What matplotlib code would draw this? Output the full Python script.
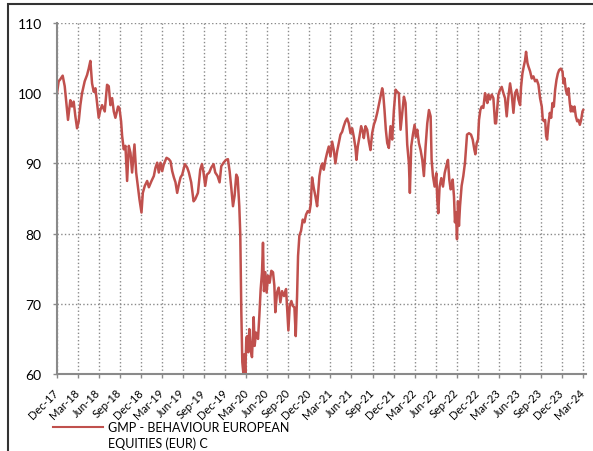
import matplotlib
matplotlib.use("Agg")
import matplotlib.pyplot as plt
from matplotlib.lines import Line2D
from matplotlib.patches import Rectangle

plt.rcParams['font.family'] = ['Lato', 'DejaVu Sans']

# x = months since end of Dec-2017
months = [
    0.00, 0.24, 0.48, 0.81, 1.10, 1.43, 1.57, 1.90, 2.14, 2.38, 2.62, 2.86, 3.10, 3.33, 3.57, 3.95,
    4.29, 4.52, 4.76, 5.00, 5.24, 5.48, 5.71, 5.95, 6.19, 6.43, 6.81, 7.14, 7.38, 7.62, 7.86, 8.10,
    8.33, 8.71, 8.90, 9.14, 9.29, 9.52, 9.76, 10.00, 10.24, 10.48, 10.71, 11.05, 11.29, 11.52, 11.76,
    12.05, 12.24, 12.52, 12.86, 13.10, 13.48, 13.81, 14.05, 14.29, 14.52, 14.76, 15.00, 15.24, 15.62,
    15.95, 16.19, 16.43, 16.67, 16.90, 17.14, 17.38, 17.62, 17.86, 18.24, 18.57, 18.81,
    19.14, 19.48, 19.71, 20.10, 20.43, 20.67, 20.90, 21.14, 21.38, 21.71, 22.00, 22.33, 22.57, 22.90,
    23.19, 23.43, 23.76, 24.10, 24.38, 24.62, 24.86, 25.10, 25.33, 25.57, 25.76, 26.00, 26.14, 26.29,
    26.43, 26.57, 26.71, 26.86, 27.00, 27.14, 27.29, 27.43, 27.62, 27.81, 28.05, 28.19, 28.38, 28.67,
    28.86, 29.05, 29.24, 29.38, 29.52, 29.71, 29.90, 30.10, 30.33, 30.57, 30.81, 31.00, 31.14, 31.38,
    31.62, 31.86, 32.10, 32.38, 32.67, 32.86, 33.00, 33.19, 33.43, 33.62, 33.86, 34.05, 34.24, 34.38,
    34.57, 34.81, 35.05, 35.29, 35.52, 35.76, 36.00, 36.19, 36.38, 36.62,
    36.86, 37.10, 37.24, 37.43, 37.67, 37.86, 38.05, 38.29, 38.52, 38.76, 39.00, 39.24, 39.48, 39.71,
    39.95, 40.19, 40.43, 40.67, 40.90, 41.14, 41.38, 41.62, 41.86, 42.10, 42.33, 42.57, 42.71, 42.90,
    43.14, 43.38, 43.62, 43.76, 44.00, 44.24, 44.48, 44.71, 44.95, 45.19, 45.43, 45.67, 45.90, 46.14,
    46.38, 46.52, 46.71, 46.90, 47.10, 47.33, 47.57, 47.81, 48.05, 48.29, 48.52, 48.76, 49.00, 49.24,
    49.48, 49.71, 49.95, 50.19, 50.33, 50.52, 50.76, 51.00, 51.19, 51.38, 51.62, 51.86, 52.10, 52.33,
    52.57, 52.81, 53.05, 53.29, 53.43, 53.62, 53.86, 54.10, 54.24, 54.38, 54.57, 54.81, 55.05, 55.29,
    55.52, 55.76, 55.95, 56.14,
    56.29, 56.43, 56.62, 56.76, 56.90, 57.05, 57.19, 57.33, 57.48, 57.71, 57.95, 58.19, 58.33, 58.48,
    58.76, 59.05, 59.29, 59.52, 59.67, 59.86, 60.05, 60.19, 60.38, 60.57, 60.81, 61.05, 61.19, 61.38,
    61.52, 61.76, 62.00, 62.24, 62.48, 62.62, 62.81, 62.95, 63.19, 63.43, 63.67, 63.90, 64.14, 64.38,
    64.62, 64.86, 65.10, 65.33, 65.57, 65.81, 66.05, 66.19, 66.38, 66.57, 66.76, 66.90, 67.10, 67.24,
    67.48, 67.71, 67.95, 68.19, 68.43, 68.67, 68.90, 69.14, 69.29, 69.48, 69.62, 69.76, 69.90, 70.10,
    70.29, 70.48, 70.67, 70.86, 71.05, 71.24, 71.43, 71.62, 71.86, 72.10, 72.24, 72.38, 72.57, 72.76,
    72.95, 73.14, 73.29, 73.43, 73.62, 73.81, 74.00, 74.19, 74.38, 74.57, 74.76, 74.95, 75.05,
]

values = [
    100.0, 101.7, 102.0, 102.5, 101.0, 97.6, 96.2, 99.0, 98.1, 98.8, 96.7, 95.0, 96.0, 98.3, 100.0, 101.7,
    102.6, 103.5, 104.6, 101.4, 100.2, 100.7, 98.6, 96.5, 97.6, 98.3, 97.4, 101.2, 101.0, 98.3, 99.3, 97.4,
    96.5, 98.1, 97.9, 96.0, 93.9, 92.0, 92.5, 87.5, 92.5, 91.5, 88.7, 92.7, 88.7, 86.8, 84.9,
    83.0, 85.8, 86.8, 87.5, 86.6, 87.5, 88.2, 89.4, 90.1, 88.7, 90.1, 88.9, 89.9, 90.8,
    90.6, 90.3, 88.9, 88.0, 87.3, 85.8, 87.0, 88.0, 88.4, 89.9, 89.4, 88.7,
    87.3, 84.6, 84.9, 85.8, 89.1, 89.9, 88.7, 86.8, 88.4, 88.7, 89.4, 89.9, 88.7, 88.2,
    87.3, 89.6, 90.1, 90.5, 90.6, 88.9, 86.5, 83.9, 85.4, 88.4, 88.0, 83.9, 79.9, 68.8,
    61.7, 60.2, 62.8, 59.8, 65.2, 65.4, 63.1, 66.4, 63.5, 62.4, 68.1, 64.0, 65.9, 65.0,
    68.3, 72.1, 74.5, 78.7, 71.8, 74.5, 71.6, 74.0, 73.0, 74.7, 74.5, 72.6, 68.8, 71.6,
    72.3, 70.2, 71.8, 71.1, 72.1, 68.8, 66.2, 69.7, 70.4, 69.7, 69.5, 65.4, 71.1, 76.8,
    79.7, 80.4, 82.0, 81.6, 82.7, 83.2, 83.0, 84.2, 88.0, 86.5,
    85.3, 83.9, 85.8, 88.2, 89.6, 90.0, 89.1, 90.5, 91.5, 92.4, 91.0, 93.1, 91.9, 90.0,
    91.7, 92.9, 94.1, 94.5, 95.3, 96.0, 96.4, 95.7, 94.3, 95.0, 93.8, 92.2, 90.5, 92.4,
    93.8, 95.3, 94.5, 93.6, 95.3, 94.8, 93.1, 91.9, 94.3, 95.5, 96.2, 97.2, 98.3, 99.5,
    100.7, 100.0, 97.6, 94.8, 92.9, 92.2, 95.3, 93.4, 97.6, 100.5, 100.2, 100.0, 94.8, 97.2,
    99.5, 98.6, 92.7, 90.0, 85.8, 92.4, 94.1, 95.5, 93.8, 94.8, 92.9, 91.9, 90.5, 88.2,
    92.4, 95.7, 97.6, 96.7, 90.5, 88.2, 86.7, 88.6, 84.8, 82.9, 86.7, 87.9, 86.7, 88.6,
    89.6, 90.5, 87.7, 86.3,
    86.5, 87.7, 85.3, 81.6, 83.0, 79.2, 84.6, 81.1, 83.9, 86.8, 88.2, 90.1, 92.0, 94.1,
    94.3, 94.1, 93.4, 92.0, 91.3, 92.9, 93.4, 96.2, 97.6, 98.1, 97.9, 100.0, 99.3, 98.6,
    99.8, 99.1, 99.8, 99.3, 95.7, 95.7, 98.1, 99.8, 100.5, 100.9, 100.0, 99.3, 96.7, 99.5,
    101.4, 99.8, 97.2, 100.0, 100.5, 99.1, 98.3, 100.9, 102.8, 103.8, 104.7, 105.9, 104.3, 103.8,
    103.1, 102.1, 102.4, 101.7, 101.9, 101.2, 99.3, 98.1, 96.2, 96.0, 96.2, 93.9, 93.4, 95.7,
    97.2, 96.5, 98.6, 98.1, 100.5, 101.9, 102.8, 103.3, 103.5, 103.1, 101.4, 102.1, 100.5, 99.8,
    100.7, 98.6, 97.4, 98.1, 97.4, 98.1, 96.7, 96.0, 96.2, 95.5, 96.2, 97.4, 97.6,
]

tick_months = list(range(0, 76, 3))
tick_labels = [
    "Dec-17", "Mar-18", "Jun-18", "Sep-18", "Dec-18", "Mar-19", "Jun-19", "Sep-19", "Dec-19",
    "Mar-20", "Jun-20", "Sep-20", "Dec-20", "Mar-21", "Jun-21", "Sep-21", "Dec-21", "Mar-22",
    "Jun-22", "Sep-22", "Dec-22", "Mar-23", "Jun-23", "Sep-23", "Dec-23", "Mar-24",
]
y_ticks = [60, 70, 80, 90, 100, 110]
series_name_1 = "GMP - BEHAVIOUR EUROPEAN"
series_name_2 = "EQUITIES (EUR) C"

W, H = 593, 452
fig = plt.figure(figsize=(W / 100, H / 100), dpi=100)
ax = fig.add_axes([57 / W, 1 - 375 / H, (586 - 57) / W, (375 - 24) / H])

line_color = '#C0504D'
grid_color = '#8a8a8a'

ax.plot(months, values, color=line_color, lw=1.8, solid_joinstyle='round')
ax.set_xlim(0, 75.45)
ax.set_ylim(60, 110)
ax.set_xticks(tick_months)
ax.set_xticklabels(tick_labels, rotation=45, ha='right', va='center',
                   rotation_mode='anchor', fontsize=8)
ax.set_yticks(y_ticks)
ax.set_yticklabels([str(v) for v in y_ticks], fontsize=10)
ax.grid(True, linestyle=':', color=grid_color, lw=1.0)
ax.set_axisbelow(True)
for s in ['top', 'right']:
    ax.spines[s].set_visible(False)
for s in ['left', 'bottom']:
    ax.spines[s].set_color(grid_color)
    ax.spines[s].set_linewidth(1.5)
ax.tick_params(axis='both', direction='out', length=3, width=1, color=grid_color,
               labelcolor='#000000')
ax.tick_params(axis='y', pad=8)
ax.tick_params(axis='x', pad=9)

# legend below
leg = fig.legend(handles=[Line2D([], [], color=line_color, lw=1.5)], labels=[series_name_1],
                 loc='center left', bbox_to_anchor=(53 / W, 1 - 428 / H), frameon=False,
                 handlelength=4.0, handletextpad=0.42, fontsize=9, borderaxespad=0,
                 borderpad=0)
fig.text(108 / W, 1 - 444 / H, series_name_2, fontsize=9, va='center', ha='left')

# frame border
fig.add_artist(Rectangle((8 / W, -0.2), 1.2, 1.2 - 5 / H, transform=fig.transFigure,
                         fill=False, edgecolor='#333333', lw=1.5, clip_on=False))

fig.savefig('out.png', dpi=100)
